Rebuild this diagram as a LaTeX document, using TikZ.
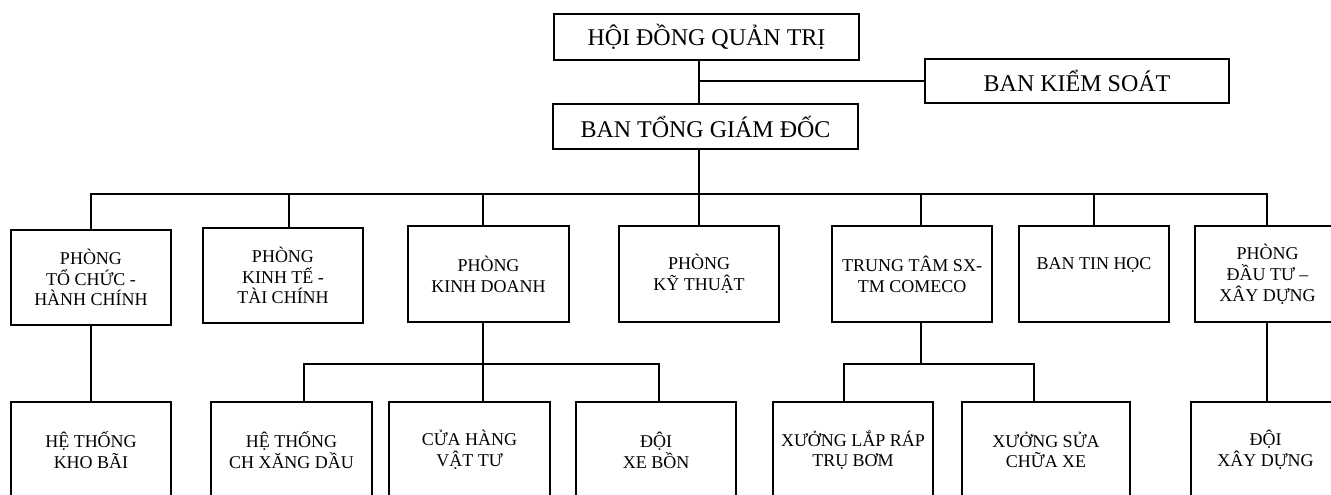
\documentclass[tikz,border=0pt]{standalone}
\usepackage{fontspec}
\setmainfont{Liberation Serif}
\newcommand\rowfont{\fontsize{13.5}{15.6}\selectfont}
\newcommand\topfont{\fontsize{18}{21}\selectfont}
\begin{document}
\begin{tikzpicture}[x=0.75pt,y=-0.75pt,
  box/.style={draw, line width=1.4pt, inner sep=0pt, align=center, font=\rowfont, minimum width=120pt},
  rowone/.style={box, minimum height=72pt},
  rowtwo/.style={box, minimum height=72pt},
  topbox/.style={box, font=\topfont, minimum width=228.75pt, minimum height=34pt},
  link/.style={line width=1.4pt}]
\useasboundingbox (0,0) rectangle (1331,494);
\clip (0,0) rectangle (1331,494);
% top level
\node[topbox] (hdqt) at (706.5,37) {HỘI ĐỒNG QUẢN TRỊ};
\node[topbox, minimum width=228pt, minimum height=33pt] (bks) at (1077,81) {BAN KIỂM SOÁT};
\node[topbox] (tgd) at (705.5,126.5) {BAN TỔNG GIÁM ĐỐC};
% first row
\node[rowone, minimum height=71.25pt] (p1) at (91,277.5) {PHÒNG\\TỔ CHỨC -\\HÀNH CHÍNH};
\node[rowone, minimum height=71.25pt] (p2) at (283,275.5) {PHÒNG\\KINH TẾ -\\TÀI CHÍNH};
\node[rowone, minimum width=120.75pt] (p3) at (488.5,274) {PHÒNG\\KINH DOANH};
\node[rowone] (p4) at (699,274) {PHÒNG\\KỸ THUẬT};
\node[rowone] (p5) at (912,274) {TRUNG TÂM SX-\\TM COMECO};
\node[rowone, minimum width=112.5pt] (p6) at (1094,274) {BAN TIN HỌC\\\mbox{}};
\node[rowone, minimum width=108.75pt] (p7) at (1267.5,274) {PHÒNG\\ĐẦU TƯ –\\XÂY DỰNG};
% second row
\node[rowtwo] (c1) at (91,450) {HỆ THỐNG\\KHO BÃI};
\node[rowtwo, minimum width=120.75pt] (c2) at (291.5,450) {HỆ THỐNG\\CH XĂNG DẦU};
\node[rowtwo, minimum width=120.75pt] (c3) at (469.5,450) {CỬA HÀNG\\VẬT TƯ};
\node[rowtwo] (c4) at (656,450) {ĐỘI\\XE BỒN};
\node[rowtwo] (c5) at (853,450) {XƯỞNG LẮP RÁP\\TRỤ BƠM};
\node[rowtwo, minimum width=126pt] (c6) at (1046,450) {XƯỞNG SỬA\\CHỮA XE};
\node[rowtwo, minimum width=111.75pt] (c7) at (1265.5,450) {ĐỘI\\XÂY DỰNG};
% helper coordinates for connector lines
\coordinate (busy) at (0,194);
\coordinate (suby) at (0,364);
\coordinate (x2) at (289,0);
\coordinate (xkd) at (483,0);
\coordinate (xtt) at (921,0);
\coordinate (x7) at (1267,0);
\coordinate (xc2) at (304,0);
\coordinate (xc4) at (659,0);
\coordinate (xc5) at (844,0);
\coordinate (xc6) at (1034,0);
% top connectors
\draw[link] (hdqt.south -| p4.north) -- (tgd.north -| p4.north);
\draw[link] (bks.west) -- (bks.west -| p4.north);
\draw[link] (tgd.south -| p4.north) -- (p4.north);
% main bus
\draw[link] (p1.north) -- (p1.north |- busy) -- (x7 |- busy) -- (p7.north -| x7);
\draw[link] (x2 |- busy) -- (p2.north -| x2);
\draw[link] (xkd |- busy) -- (p3.north -| xkd);
\draw[link] (xtt |- busy) -- (p5.north -| xtt);
\draw[link] (p6.north |- busy) -- (p6.north);
% second level
\draw[link] (p1.south) -- (c1.north);
\draw[link] (p3.south -| xkd) -- (c3.north -| xkd);
\draw[link] (c2.north -| xc2) -- (xc2 |- suby) -- (xc4 |- suby) -- (c4.north -| xc4);
\draw[link] (p5.south -| xtt) -- (xtt |- suby);
\draw[link] (c5.north -| xc5) -- (xc5 |- suby) -- (xc6 |- suby) -- (c6.north -| xc6);
\draw[link] (p7.south -| x7) -- (c7.north -| x7);
\end{tikzpicture}
\end{document}
